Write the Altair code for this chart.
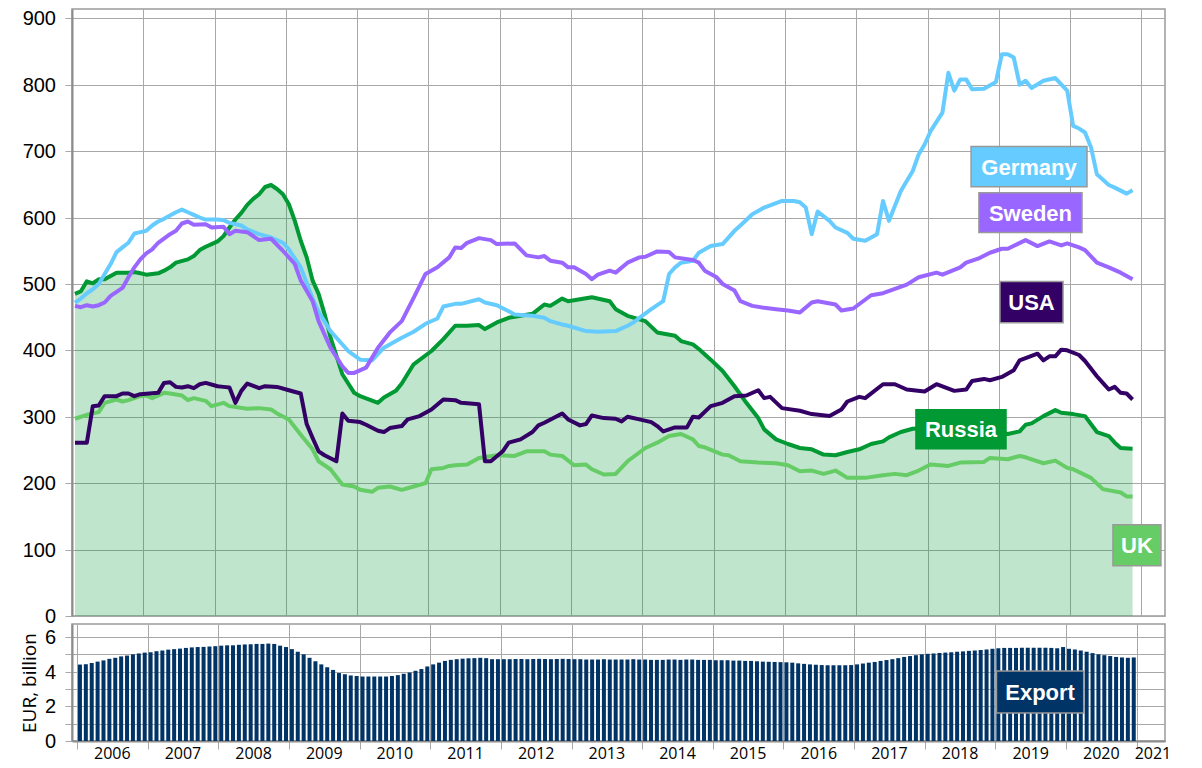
import altair as alt
import pandas as pd

# ---------------- data (month index 0 = Jan 2006) ----------------
GER_M = [0,1,2,3,4,5,6,7,8,9,10,11,12,13,14,15,16,17,18,19,20,21,22,24,25,26,28,29,31,33,35,36,38,40,41,43,46,48,50,52,55,57,59,61,62,64,65,68,69,71,73,74,77,79,80,82,83,86,88,91,93,94,95,97,99,100,101,102,104,105,107,109,111,112,114,116,119,121,122,123,124,125,127,128,130,131,133,135,136,137,139,141,142,143,144,146,147,148,149,150,151,153,155,156,157,158,159,160,161,163,165,167,168,169,170,171,172,174,175,177,178]
GER_V = [472,478,486,492,500,515,530,548,555,562,576,578,580,588,594,598,603,608,612,608,604,600,597,597,596,592,588,582,575,570,562,552,525,478,458,429,399,386,385,404,419,428,440,448,466,470,470,477,472,468,459,454,452,449,444,439,437,429,428,429,437,442,449,462,474,515,525,532,535,547,557,560,580,588,605,615,625,625,623,615,575,609,595,585,577,568,565,575,625,595,640,670,695,710,730,758,818,791,808,808,793,794,804,846,846,841,800,806,795,806,810,791,738,734,728,706,665,649,645,636,641]

SWE_M = [0,1,2,3,4,5,6,8,9,10,11,12,13,14,16,17,18,19,20,22,23,25,26,27,29,31,33,35,37,38,40,41,43,45,46,47,49,51,53,55,57,59,61,63,64,65,66,68,70,71,74,76,78,79,80,82,83,84,86,87,88,90,91,93,95,96,98,100,101,104,105,106,108,109,111,112,114,116,118,120,122,124,125,128,129,131,134,136,140,142,145,146,149,150,152,154,156,157,160,162,164,166,167,169,170,172,174,176,178]
SWE_V = [467,465,468,466,468,472,482,494,510,525,537,546,552,562,575,580,591,594,589,590,585,586,575,580,578,566,568,550,530,505,474,444,404,376,366,366,374,404,427,444,479,515,525,540,555,554,562,569,566,560,561,543,540,542,535,532,525,525,515,507,514,520,517,532,540,541,549,548,540,536,532,520,510,500,490,474,467,464,462,460,457,472,474,469,460,463,483,486,499,510,517,514,525,532,538,547,553,553,566,557,564,558,561,555,551,532,525,517,507]

RUS_M = [0,1,2,3,4,5,6,7,9,10,11,12,14,15,16,17,19,20,21,22,23,24,25,26,27,28,29,30,31,32,33,34,35,36,37,38,39,40,41,42,43,45,47,48,51,52,54,55,57,60,62,64,66,68,69,71,73,75,77,79,80,82,83,85,87,90,91,93,96,98,101,102,104,105,107,109,111,113,115,116,118,120,122,124,126,128,130,132,134,136,137,139,141,145,150,154,157,159,160,161,163,165,166,168,170,172,174,175,176,178]
RUS_V = [485,489,504,501,507,507,512,517,517,518,516,514,516,520,525,532,537,542,551,556,560,564,572,585,597,607,619,628,635,646,649,643,635,620,595,565,540,505,485,455,420,364,336,331,321,329,339,350,379,399,417,437,437,438,432,442,449,452,455,469,467,478,474,477,480,474,462,452,444,427,422,414,409,402,386,369,346,321,298,281,266,259,253,251,243,242,247,251,259,263,269,277,282,284,281,278,274,278,288,290,301,310,306,304,301,277,271,261,253,252]

USA_M = [0,2,3,4,5,7,8,9,10,11,14,15,16,17,18,19,20,21,22,24,25,26,27,28,29,31,32,34,36,38,39,40,41,42,44,45,46,48,49,51,52,53,55,56,58,60,62,64,65,68,69,70,72,73,75,77,78,79,82,83,85,86,87,89,91,92,93,95,97,98,99,101,103,104,105,107,109,111,113,115,116,117,119,122,124,127,129,130,132,133,136,138,140,143,145,148,150,151,153,154,156,158,159,162,163,164,165,166,167,169,170,172,173,174,175,176,177,178]
USA_V = [261,261,316,317,331,331,335,335,331,334,336,351,352,345,344,346,343,349,351,346,345,344,321,339,350,343,346,345,340,335,289,268,248,242,233,305,294,292,288,279,277,283,286,296,301,311,326,325,321,319,233,233,248,261,266,277,287,291,305,296,287,289,302,298,297,293,300,296,292,286,278,284,284,300,299,316,321,331,332,340,328,330,313,309,304,301,311,323,330,328,349,349,341,338,349,339,341,354,357,355,360,370,385,395,385,391,391,401,400,393,384,361,351,341,345,336,335,326]

UK_M = [0,2,4,5,7,8,9,11,12,13,15,16,18,19,20,22,23,25,26,29,31,33,34,36,38,40,41,43,45,47,48,50,51,53,55,57,59,60,62,63,64,66,68,71,74,76,79,80,82,84,86,87,89,91,93,96,98,100,102,104,105,106,109,110,112,115,118,120,122,124,126,128,130,133,136,138,140,142,144,147,149,153,154,157,159,160,163,165,167,168,171,173,176,177,178]
UK_V = [297,303,307,321,326,323,325,331,332,328,336,335,332,325,328,324,316,321,316,312,313,311,305,296,273,251,233,221,198,195,190,187,193,195,190,195,200,221,223,226,227,228,238,242,241,248,248,243,241,227,228,221,213,214,233,253,261,271,274,266,256,254,243,242,233,231,230,227,218,219,214,219,208,208,212,214,212,219,228,226,231,232,238,236,241,239,230,234,223,221,208,191,186,180,180]

# Export, EUR billion, monthly Jan 2006 .. Dec 2020
EXPORT = [
    4.41, 4.43, 4.50, 4.58, 4.65, 4.74, 4.80, 4.88, 4.93, 5.00, 5.05, 5.10,
    5.12, 5.18, 5.22, 5.27, 5.30, 5.33, 5.37, 5.40, 5.42, 5.43, 5.45, 5.47,
    5.50, 5.52, 5.52, 5.55, 5.57, 5.58, 5.60, 5.60, 5.62, 5.60, 5.50, 5.42,
    5.30, 5.15, 5.00, 4.80, 4.60, 4.42, 4.25, 4.10, 3.92, 3.85, 3.78, 3.75,
    3.72, 3.72, 3.72, 3.72, 3.72, 3.75, 3.80, 3.88, 3.95, 4.05, 4.15, 4.30,
    4.42, 4.52, 4.62, 4.68, 4.72, 4.75, 4.77, 4.78, 4.80, 4.78, 4.72, 4.72,
    4.72, 4.72, 4.73, 4.73, 4.72, 4.73, 4.74, 4.73, 4.72, 4.73, 4.74, 4.73,
    4.72, 4.72, 4.70, 4.70, 4.70, 4.72, 4.70, 4.70, 4.70, 4.70, 4.72, 4.70,
    4.70, 4.68, 4.68, 4.68, 4.70, 4.70, 4.68, 4.70, 4.70, 4.68, 4.68, 4.68,
    4.66, 4.66, 4.66, 4.64, 4.64, 4.62, 4.62, 4.60, 4.58, 4.57, 4.56, 4.55,
    4.54, 4.52, 4.48, 4.45, 4.42, 4.40, 4.38, 4.37, 4.37, 4.37, 4.37, 4.38,
    4.42, 4.47, 4.52, 4.56, 4.62, 4.67, 4.72, 4.78, 4.85, 4.90, 4.95, 5.00,
    5.03, 5.05, 5.08, 5.10, 5.12, 5.15, 5.17, 5.20, 5.22, 5.25, 5.28, 5.32,
    5.35, 5.37, 5.37, 5.37, 5.38, 5.38, 5.38, 5.38, 5.38, 5.37, 5.35, 5.42,
    5.32, 5.28, 5.22, 5.15, 5.07, 5.00, 4.95, 4.90, 4.85, 4.82, 4.80, 4.82,
]

YEARS = list(range(2006, 2022))
TOP_TICKS = list(range(0, 901, 100))
BOT_TICKS = [0, 1, 2, 3, 4, 5, 6]
BOT_TICK_LABELS = [0, 2, 4, 6]

# label boxes (data coordinates)
ANN_LABEL = ["Germany", "Sweden", "USA", "Russia", "UK"]
ANN_X1 = [2018.61, 2018.72, 2019.015, 2017.837, 2020.60]
ANN_X2 = [2020.236, 2020.166, 2019.90, 2019.10, 2021.273]
ANN_Y1 = [646.5, 577.3, 441.7, 252.0, 75.8]
ANN_Y2 = [706.8, 637.5, 503.5, 310.7, 137.5]
ANN_FILL = ["#66ccff", "#9966ff", "#330066", "#009933", "#66cc66"]
ANN_STROKE = ["#999999", "#999999", "#999999", "#009933", "#999999"]

EXP_LABEL = ["Export"]
EXP_X1, EXP_X2 = [2019.015], [2020.25]
EXP_Y1, EXP_Y2 = [1.62], [4.04]

# ---------------- layout constants ----------------
X_DOMAIN = [2006.0, 2021.33]
TOP_DOMAIN = [0, 914]
BOT_DOMAIN = [0, 6.75]
W, H_TOP, H_BOT = 1093, 607, 117
GRID = "#a8a8a8"


def month_t(m):
    return 2006 + (m + 0.5) / 12.0


def frame(months, vals):
    return pd.DataFrame({"t": [month_t(m) for m in months], "v": vals})


xs = alt.Scale(domain=X_DOMAIN, nice=False, zero=False)
ys_top = alt.Scale(domain=TOP_DOMAIN, nice=False)
ys_bot = alt.Scale(domain=BOT_DOMAIN, nice=False)

ax_top_x = alt.Axis(values=YEARS, labels=False, ticks=False, domain=False, title=None, grid=True,
                    minExtent=0, maxExtent=0)
ax_top_y = alt.Axis(values=TOP_TICKS, labels=False, title=None, tickSize=7, grid=True, domain=True,
                    minExtent=0)

area = alt.Chart(frame(RUS_M, RUS_V)).mark_area(color="#009933", opacity=0.25).encode(
    x=alt.X("t:Q", scale=xs, axis=ax_top_x), y=alt.Y("v:Q", scale=ys_top, axis=ax_top_y))

series = [
    (RUS_M, RUS_V, "#009933"),
    (UK_M, UK_V, "#66cc66"),
    (USA_M, USA_V, "#330066"),
    (GER_M, GER_V, "#66ccff"),
    (SWE_M, SWE_V, "#9966ff"),
]
lines = [
    alt.Chart(frame(m, v)).mark_line(color=c, strokeWidth=4, strokeJoin="round").encode(
        x=alt.X("t:Q", scale=xs, axis=ax_top_x), y=alt.Y("v:Q", scale=ys_top, axis=ax_top_y))
    for m, v, c in series
]

ann = pd.DataFrame({
    "label": ANN_LABEL, "x1": ANN_X1, "x2": ANN_X2, "y1": ANN_Y1, "y2": ANN_Y2,
    "fill": ANN_FILL, "stroke": ANN_STROKE,
})
ann["tx"] = (ann["x1"] + ann["x2"]) / 2
ann["ty"] = (ann["y1"] + ann["y2"]) / 2

boxes = alt.Chart(ann).mark_rect(strokeWidth=1.5).encode(
    x=alt.X("x1:Q", scale=xs, axis=ax_top_x), x2="x2",
    y=alt.Y("y1:Q", scale=ys_top, axis=ax_top_y), y2="y2",
    fill=alt.Fill("fill:N", scale=None), stroke=alt.Stroke("stroke:N", scale=None))
box_text = alt.Chart(ann).mark_text(font="Liberation Sans", fontSize=22, fontWeight="bold",
                                    color="white", baseline="middle", dy=1).encode(
    x=alt.X("tx:Q", scale=xs, axis=ax_top_x), y=alt.Y("ty:Q", scale=ys_top, axis=ax_top_y),
    text="label:N")

top_lbl_df = pd.DataFrame({"v": TOP_TICKS, "label": [str(v) for v in TOP_TICKS]})
top_labels = alt.Chart(top_lbl_df).mark_text(font="Liberation Sans", fontSize=20, color="black",
                                             align="right", baseline="middle", dy=1).encode(
    x=alt.value(-16), y=alt.Y("v:Q", scale=ys_top, axis=ax_top_y), text="label:N")

top = alt.layer(area, *lines, boxes, box_text, top_labels).properties(width=W, height=H_TOP)

# ---------------- bottom panel ----------------
exp_df = pd.DataFrame({"t": [month_t(i) for i in range(len(EXPORT))], "v": EXPORT})
ax_bot_x = alt.Axis(values=YEARS, labels=False, ticks=True, tickSize=8, domain=True,
                    title=None, grid=True)
ax_bot_y = alt.Axis(values=BOT_TICKS, labels=False,
                    title="EUR, billion", titleFont="Open Sans", titleFontSize=19,
                    titleFontWeight="normal", titlePadding=25, tickSize=7,
                    grid=True, domain=True)
bars = alt.Chart(exp_df).mark_bar(size=4, color="#003366").encode(
    x=alt.X("t:Q", scale=xs, axis=ax_bot_x), y=alt.Y("v:Q", scale=ys_bot, axis=ax_bot_y))

exp_ann = pd.DataFrame({"label": EXP_LABEL, "x1": EXP_X1, "x2": EXP_X2, "y1": EXP_Y1, "y2": EXP_Y2})
exp_ann["tx"] = (exp_ann["x1"] + exp_ann["x2"]) / 2
exp_ann["ty"] = (exp_ann["y1"] + exp_ann["y2"]) / 2
exp_box = alt.Chart(exp_ann).mark_rect(fill="#003366", stroke="#999999", strokeWidth=1.5).encode(
    x=alt.X("x1:Q", scale=xs, axis=ax_bot_x), x2="x2",
    y=alt.Y("y1:Q", scale=ys_bot, axis=ax_bot_y), y2="y2")
exp_text = alt.Chart(exp_ann).mark_text(font="Liberation Sans", fontSize=22, fontWeight="bold",
                                        color="white", baseline="middle", dy=1).encode(
    x=alt.X("tx:Q", scale=xs, axis=ax_bot_x), y=alt.Y("ty:Q", scale=ys_bot, axis=ax_bot_y),
    text="label:N")

bot_lbl_df = pd.DataFrame({"v": BOT_TICK_LABELS, "label": [str(v) for v in BOT_TICK_LABELS]})
bot_labels = alt.Chart(bot_lbl_df).mark_text(font="Liberation Sans", fontSize=20, color="black",
                                             align="right", baseline="middle", dy=1).encode(
    x=alt.value(-16), y=alt.Y("v:Q", scale=ys_bot, axis=ax_bot_y), text="label:N")

year_df = pd.DataFrame({
    "year": [str(y) for y in YEARS],
    "t": [min(y + 0.5, X_DOMAIN[1] - 0.1) for y in YEARS],
})
year_text = alt.Chart(year_df).mark_text(font="Open Sans", fontSize=16, color="black",
                                         baseline="middle").encode(
    x=alt.X("t:Q", scale=xs, axis=ax_bot_x), y=alt.value(H_BOT + 13), text="year:N")

bottom = alt.layer(bars, exp_box, exp_text, bot_labels, year_text).properties(width=W, height=H_BOT)

chart = alt.vconcat(top, bottom, spacing=8, bounds="flush").properties(
    padding={"left": 11, "top": 0, "right": 10, "bottom": 5}
).configure_view(
    stroke="#9a9a9a", strokeWidth=1.5
).configure_axis(
    gridColor=GRID, gridWidth=1, tickColor=GRID, domainColor="#8c8c8c", domainWidth=2,
    titleColor="#000000"
)

chart.save("out.html", embed_options={"renderer": "svg", "actions": False})
